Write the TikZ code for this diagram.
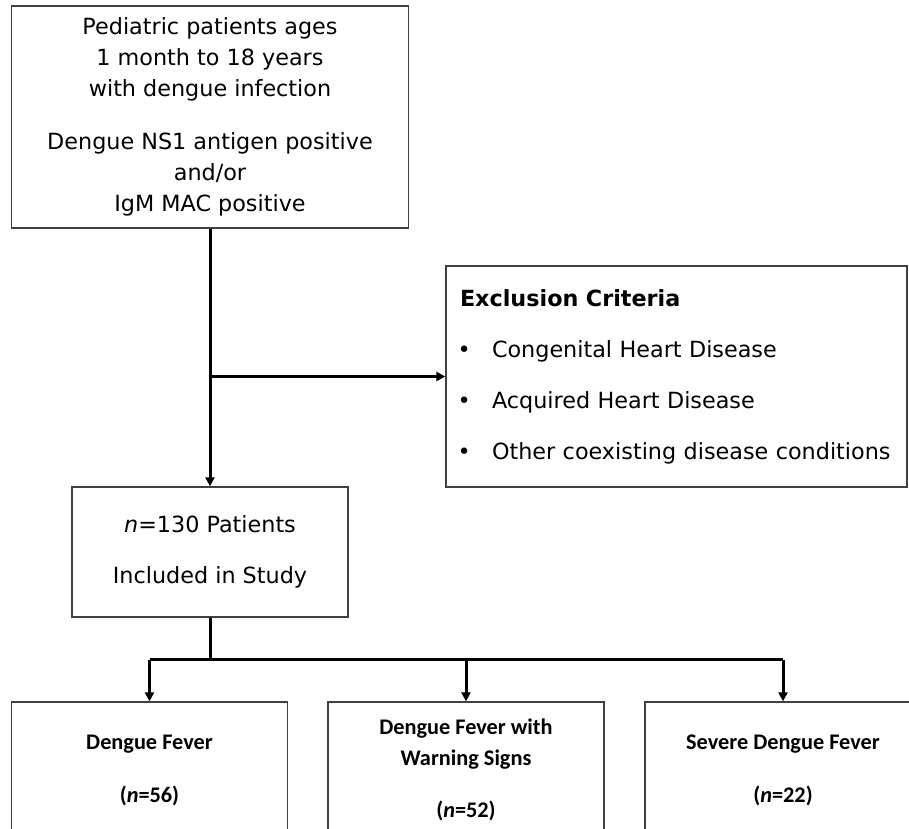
\documentclass[tikz,border=0pt]{standalone}
\usepackage{fontspec}
\setmainfont{DejaVu Sans}
\newfontfamily\calibrifont{Carlito}
\usetikzlibrary{arrows.meta}
\tikzset{
  box/.style={rectangle, draw=black!75, line width=1.3pt, align=center, inner sep=0pt},
  conn/.style={line width=3pt, >={Triangle[length=9pt,width=9pt]}},
  group/.style={box, minimum width=276pt, minimum height=136pt,
    font=\calibrifont\bfseries\fontsize{22.3}{31}\selectfont}
}
\newcommand\exitem[1]{\makebox[32pt][l]{\hspace{-2.5pt}\textbullet}#1}

\begin{document}
\begin{tikzpicture}[x=1pt,y=-1pt]
  \clip (0,0) rectangle (909,828);
  % boxes
  \node[box, minimum width=397pt, minimum height=222pt,
        font=\fontsize{22.3}{31}\selectfont] (patients) at (210,117)
    {Pediatric patients ages\\1 month to 18 years\\with dengue infection\\[21.5pt]Dengue NS1 antigen positive\\and/or\\IgM MAC positive};
  \node[box, minimum width=461pt, minimum height=221pt, align=left, text width=433pt,
        font=\fontsize{22.3}{51}\selectfont] (exclusion) at (676.5,376.5)
    {\textbf{Exclusion Criteria}\\\exitem{Congenital Heart Disease}\\\exitem{Acquired Heart Disease}\\\exitem{Other coexisting disease conditions}};
  \node[box, minimum width=276pt, minimum height=130pt,
        font=\fontsize{22.3}{51}\selectfont] (included) at (210,552)
    {\textit{n}=130 Patients\\Included in Study};
  \node[group] (df) at (149.5,770) {Dengue Fever\\[22pt](\textit{n}=56)};
  \node[group] (dfws) at (466,770) {Dengue Fever with\\Warning Signs\\[21pt](\textit{n}=52)};
  \node[group] (sdf) at (783,770) {Severe Dengue Fever\\[22pt](\textit{n}=22)};
  % connectors
  \draw[conn,->] (patients.south) -- (included.north);
  \coordinate (split) at (patients.south |- exclusion.west);
  \draw[conn,->] (split) -- (exclusion.west);
  \draw[conn] (included.south) -- ++(0,42) coordinate (bus);
  \draw[conn] (bus -| df.north) -- (bus -| sdf.north);
  \foreach \g in {df,dfws,sdf}
    \draw[conn,->] (bus -| \g.north) -- (\g.north);
\end{tikzpicture}
\end{document}
